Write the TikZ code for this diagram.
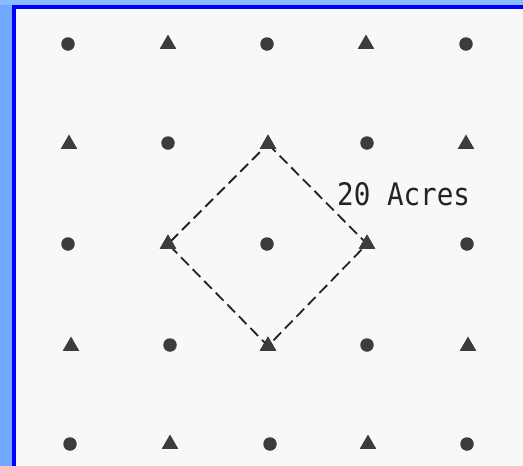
\documentclass[tikz,border=0pt]{standalone}
\usepackage{fontspec}
\usetikzlibrary{shapes.geometric}
\newfontfamily\acresfont{DejaVu Sans Mono}
\definecolor{topstrip}{RGB}{136,188,255}
\definecolor{leftstrip}{RGB}{112,170,255}
\definecolor{frameblue}{RGB}{0,0,255}
\definecolor{paper}{RGB}{248,248,248}
\definecolor{ink}{RGB}{60,60,60}
\definecolor{lineink}{RGB}{35,35,35}
\tikzset{
  well/.style={circle,fill=ink,inner sep=0pt,minimum size=13.5pt},
  inj/.style={regular polygon,regular polygon sides=3,fill=ink,inner sep=0pt,minimum size=19pt},
  pattern line/.style={draw=lineink,line width=1.8pt,dash pattern=on 11pt off 5.5pt},
  label text/.style={text=lineink,inner sep=0pt,anchor=base west}
}
\begin{document}
\begin{tikzpicture}[x=1pt,y=-1pt]
\useasboundingbox (0,0) rectangle (523,466);
% outer background
\fill[topstrip] (0,0) rectangle (523,466);
\fill[leftstrip] (0,5) rectangle (12,466);
% frame
\fill[frameblue] (12,5) rectangle (523,466);
\fill[paper] (16,8.5) rectangle (523,466);
% row 1
\node[well] (a1) at (68,44) {};
\node[inj]  (a2) at (168,44) {};
\node[well] (a3) at (267,44) {};
\node[inj]  (a4) at (366,44) {};
\node[well] (a5) at (466,44) {};
% row 2
\node[inj]  (b1) at (69,144) {};
\node[well] (b2) at (168,143) {};
\node[inj]  (b3) at (268,144) {};
\node[well] (b4) at (367,143) {};
\node[inj]  (b5) at (466,144) {};
% row 3
\node[well] (c1) at (68,244) {};
\node[inj]  (c2) at (168,244) {};
\node[well] (c3) at (267,244) {};
\node[inj]  (c4) at (367,244) {};
\node[well] (c5) at (467,244) {};
% row 4
\node[inj]  (d1) at (71,346) {};
\node[well] (d2) at (170,345) {};
\node[inj]  (d3) at (268,346) {};
\node[well] (d4) at (367,345) {};
\node[inj]  (d5) at (468,346) {};
% row 5
\node[well] (e1) at (70,444) {};
\node[inj]  (e2) at (170,444) {};
\node[well] (e3) at (270,444) {};
\node[inj]  (e4) at (368,444) {};
\node[well] (e5) at (467,444) {};
% 20-acre pattern
\draw[pattern line] (b3.center) -- (c4.center) -- (d3.center) -- (c2.center) -- cycle;
\node[inj] at (b3) {};
\node[inj] at (c4) {};
\node[inj] at (d3) {};
\node[inj] at (c2) {};
\node[label text] (lab) at (337,205) {\scalebox{0.89}[1]{\acresfont\fontsize{31}{31}\selectfont 20 Acres}};
\end{tikzpicture}
\end{document}
